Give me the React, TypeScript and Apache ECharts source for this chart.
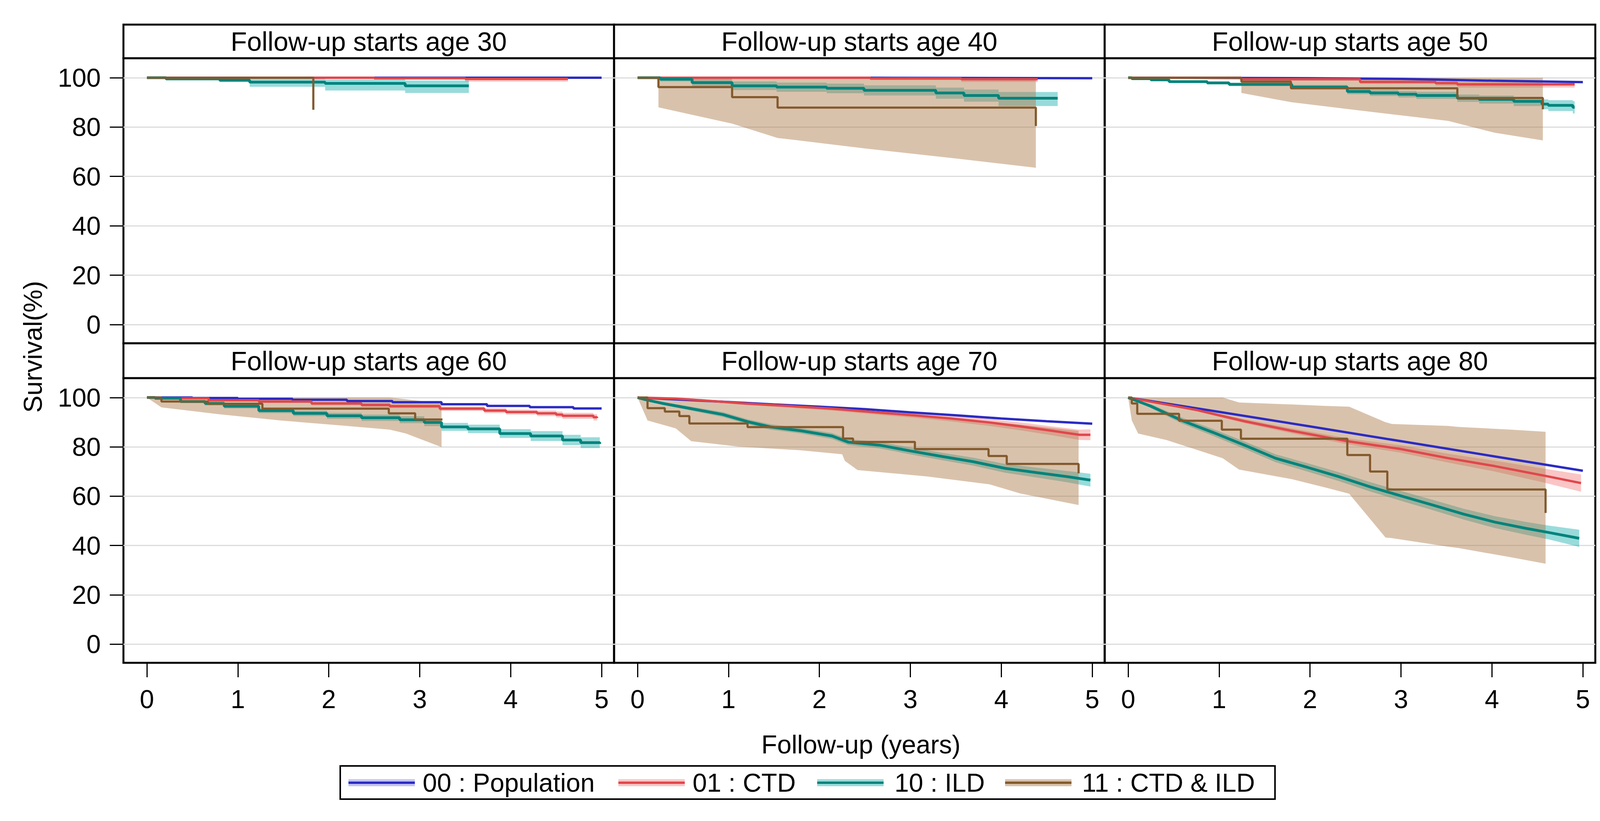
import React, { useEffect, useRef } from "react";
import * as echarts from "echarts";

// ---------- labels ----------
const GROUPS = ["00 : Population", "01 : CTD", "10 : ILD", "11 : CTD & ILD"];
const PANEL_TITLES = [
  "Follow-up starts age 30",
  "Follow-up starts age 40",
  "Follow-up starts age 50",
  "Follow-up starts age 60",
  "Follow-up starts age 70",
  "Follow-up starts age 80",
];
const X_TICKS = [0, 1, 2, 3, 4, 5];
const Y_TICKS = [0, 20, 40, 60, 80, 100];
const X_TITLE = "Follow-up (years)";
const Y_TITLE = "Survival(%)";

// ---------- age 30 ----------
const a30PopT = [0, 5];
const a30PopS = [100, 100];
const a30CtdT = [0, 2.5, 3.5, 4.63];
const a30CtdS = [100, 99.8, 99.5, 99.5];
const a30CtdLo = [100, 99.2, 98.4, 98.3];
const a30CtdHi = [100, 100, 100, 100];
const a30IldT = [0, 0.21, 0.8, 1.13, 1.96, 2.84, 3.54];
const a30IldS = [100, 99.5, 99.0, 98.2, 97.7, 96.7, 96.7];
const a30IldLo = [100, 99.0, 98.2, 96.3, 94.8, 93.8, 93.2];
const a30IldHi = [100, 100, 99.8, 99.6, 99.3, 98.9, 98.7];
const a30BrnT = [0, 1.83];
const a30BrnS = [100, 87.0];

// ---------- age 40 ----------
const a40PopT = [0, 2.5, 3.5, 5];
const a40PopS = [100, 99.9, 99.8, 99.7];
const a40CtdT = [0, 2.56, 3.56, 4.4];
const a40CtdS = [100, 99.7, 99.4, 99.4];
const a40CtdLo = [100, 99.0, 98.3, 98.3];
const a40CtdHi = [100, 100, 100, 100];
const a40IldT = [0, 0.25, 0.6, 1.04, 1.53, 2.08, 2.49, 3.28, 3.59, 3.97, 4.62];
const a40IldS = [100, 99.4, 98.0, 96.7, 96.2, 95.7, 94.9, 93.8, 92.8, 91.7, 91.6];
const a40IldLo = [100, 98.5, 96.5, 95.0, 94.3, 93.7, 92.8, 91.5, 90.3, 88.5, 88.0];
const a40IldHi = [100, 100, 99.5, 98.5, 98.0, 97.6, 96.9, 96.0, 95.2, 94.2, 94.1];
const a40BrnT = [0, 0.23, 1.04, 1.54, 4.38];
const a40BrnS = [100, 96.2, 92.1, 87.9, 80.4];
const a40BrnBandT = [0.23, 1.04, 1.54, 2.49, 3.52, 4.38];
const a40BrnLo = [88.0, 81.4, 75.6, 71.4, 67.2, 63.5];
const a40BrnHi = [100, 100, 100, 100, 100, 100];

// ---------- age 50 ----------
const a50PopT = [0, 1, 2, 3, 4, 5];
const a50PopS = [100, 99.9, 99.8, 99.5, 98.8, 98.2];
const a50CtdT = [0, 1.24, 2.55, 3.38, 3.62, 4.91];
const a50CtdS = [100, 99.4, 98.3, 97.8, 97.3, 97.3];
const a50CtdLo = [100, 98.8, 97.5, 96.8, 96.0, 95.9];
const a50CtdHi = [100, 100, 99.2, 98.8, 98.3, 98.0];
const a50IldT = [0, 0.04, 0.25, 0.45, 0.87, 1.11, 1.8, 2.41, 2.66, 2.97, 3.17, 3.62, 3.86, 4.24, 4.55, 4.62, 4.89, 4.91];
const a50IldS = [100, 99.6, 99.1, 98.4, 97.9, 97.3, 96.2, 94.4, 93.8, 93.3, 92.8, 91.7, 91.2, 90.4, 89.3, 88.8, 88.0, 88.0];
const a50IldLo = [100, 99.3, 98.7, 97.9, 97.3, 96.6, 95.3, 93.3, 92.6, 92.0, 91.4, 90.2, 89.5, 88.5, 87.2, 86.5, 85.5, 85.5];
const a50IldHi = [100, 99.9, 99.5, 98.9, 98.5, 98.0, 97.1, 95.5, 95.0, 94.6, 94.2, 93.2, 92.8, 92.2, 91.2, 90.9, 90.5, 90.5];
const a50BrnT = [0, 1.245, 1.79, 3.62, 4.56];
const a50BrnS = [100, 98.4, 95.7, 91.8, 87.2];
const a50BrnBandT = [1.245, 1.79, 2.48, 3.52, 4.03, 4.56];
const a50BrnLo = [93.8, 90.1, 87.0, 82.5, 77.7, 74.6];
const a50BrnHi = [100, 100, 100, 100, 100, 100];

// ---------- age 60 ----------
const a60PopT = [0, 0.5, 1.0, 1.6, 2.2, 2.7, 3.24, 3.74, 4.21, 4.69, 5.0];
const a60PopS = [100, 99.8, 99.5, 99.1, 98.6, 98.1, 97.3, 96.6, 96.1, 95.6, 95.6];
const a60CtdT = [0, 0.13, 0.68, 1.23, 1.81, 2.36, 2.67, 3.22, 3.71, 3.95, 4.29, 4.5, 4.57, 4.91, 4.95];
const a60CtdS = [100, 99.7, 98.9, 98.4, 97.6, 97.0, 96.5, 95.5, 94.7, 94.1, 93.6, 93.1, 92.6, 92.0, 91.7];
const a60CtdLo = [100, 99.4, 98.4, 97.8, 96.9, 96.2, 95.7, 94.6, 93.7, 93.1, 92.5, 91.9, 91.4, 90.7, 90.4];
const a60CtdHi = [100, 100, 99.4, 99.0, 98.3, 97.8, 97.3, 96.4, 95.7, 95.1, 94.7, 94.3, 93.8, 93.3, 93.0];
const a60IldT = [0, 0.09, 0.37, 0.64, 0.85, 1.23, 1.61, 1.98, 2.36, 2.78, 3.05, 3.24, 3.53, 3.88, 4.22, 4.57, 4.77, 4.98];
const a60IldS = [100, 99.7, 98.4, 97.6, 96.5, 94.7, 93.6, 92.6, 91.8, 91.0, 89.9, 88.1, 87.3, 85.4, 84.4, 82.8, 81.7, 81.2];
const a60IldLo = [100, 99.4, 97.8, 96.8, 95.6, 93.7, 92.5, 91.4, 90.5, 89.6, 88.4, 86.5, 85.6, 83.6, 82.4, 80.7, 79.5, 78.8];
const a60IldHi = [100, 100, 99.0, 98.4, 97.4, 95.7, 94.7, 93.8, 93.1, 92.4, 91.4, 89.7, 89.0, 87.2, 86.4, 84.9, 83.9, 83.6];
const a60BrnT = [0, 0.16, 0.67, 1.27, 2.66, 2.95, 3.25];
const a60BrnS = [100, 98.4, 97.5, 95.5, 93.6, 91.1, 91.1];
const a60BrnBandT = [0, 0.16, 0.78, 1.47, 2.16, 2.67, 2.85, 3.24];
const a60BrnLo = [100, 96.0, 93.3, 90.7, 88.6, 87.0, 85.4, 79.9];
const a60BrnHi = [100, 100, 100, 100, 100, 100, 99.3, 97.6];

// ---------- age 70 ----------
const a70PopT = [0, 0.5, 1, 1.5, 2, 2.5, 3, 3.5, 4, 4.5, 5];
const a70PopS = [100, 99.1, 98.2, 97.2, 96.3, 95.3, 94.0, 92.8, 91.5, 90.4, 89.4];
const a70CtdT = [0, 0.42, 0.7, 1.18, 1.66, 2.14, 2.59, 3.04, 3.45, 3.87, 4.21, 4.56, 4.86, 4.98];
const a70CtdS = [100, 99.6, 98.9, 97.6, 96.6, 95.5, 94.1, 92.8, 91.5, 89.9, 88.3, 86.5, 84.9, 84.9];
const a70CtdLo = [100, 99.3, 98.5, 97.0, 95.9, 94.7, 93.2, 91.8, 90.3, 88.5, 86.7, 84.7, 82.8, 82.7];
const a70CtdHi = [100, 99.9, 99.3, 98.2, 97.3, 96.3, 95.0, 93.8, 92.7, 91.3, 89.9, 88.3, 87.0, 87.1];
const a70IldT = [0, 0.08, 0.28, 0.59, 0.94, 1.21, 1.46, 1.8, 2.14, 2.32, 2.66, 3.01, 3.35, 3.69, 4.04, 4.38, 4.73, 4.98];
const a70IldS = [100, 99.2, 97.6, 95.5, 93.1, 90.2, 88.1, 86.5, 84.4, 81.9, 80.7, 78.3, 76.1, 74.0, 71.3, 69.6, 67.9, 66.5];
const a70IldLo = [100, 98.9, 97.0, 94.7, 92.1, 89.2, 87.0, 85.4, 83.2, 80.7, 79.4, 76.9, 74.6, 72.4, 69.5, 67.6, 65.6, 63.9];
const a70IldHi = [100, 99.5, 98.2, 96.3, 94.1, 91.2, 89.2, 87.6, 85.6, 83.1, 82.0, 79.7, 77.6, 75.6, 73.1, 71.6, 70.2, 69.1];
const a70BrnT = [0, 0.11, 0.3, 0.46, 0.57, 1.21, 2.26, 2.37, 3.05, 3.86, 4.06, 4.85];
const a70BrnS = [100, 95.7, 94.3, 92.5, 89.5, 88.0, 83.4, 82.0, 79.1, 76.3, 73.1, 69.3];
const a70BrnBandT = [0, 0.11, 0.42, 0.59, 1.11, 1.8, 2.25, 2.28, 2.42, 3.18, 3.87, 4.21, 4.85];
const a70BrnLo = [100, 90.7, 87.5, 82.3, 80.1, 78.6, 77.0, 74.3, 70.6, 68.0, 64.8, 61.1, 56.4];
const a70BrnHi = [100, 99.8, 99.3, 98.9, 98.0, 96.6, 95.3, 95.0, 94.5, 92.5, 90.3, 89.0, 86.5];

// ---------- age 80 ----------
const a80PopT = [0, 1, 2, 3, 4, 5];
const a80PopS = [100, 94.2, 88.3, 82.3, 76.3, 70.3];
const a80CtdT = [0, 0.76, 1.28, 1.8, 2.41, 3.0, 3.52, 4.03, 4.55, 4.98];
const a80CtdS = [100, 94.9, 90.4, 86.5, 82.3, 79.1, 75.4, 72.2, 68.5, 65.3];
const a80CtdLo = [100, 94.4, 89.6, 85.5, 81.1, 77.6, 73.6, 70.0, 65.7, 61.8];
const a80CtdHi = [100, 95.4, 91.2, 87.5, 83.5, 80.6, 77.2, 74.4, 71.3, 68.8];
const a80IldT = [0, 0.25, 0.59, 0.93, 1.28, 1.62, 1.97, 2.31, 2.66, 3.0, 3.35, 3.69, 4.03, 4.38, 4.62, 4.96];
const a80IldS = [100, 96.5, 90.7, 85.9, 80.7, 75.4, 71.7, 68.0, 63.8, 60.1, 56.4, 52.7, 49.5, 46.9, 45.3, 42.9];
const a80IldLo = [100, 95.7, 89.5, 84.5, 79.2, 73.8, 70.0, 66.2, 61.9, 58.1, 54.3, 50.5, 47.1, 44.3, 42.5, 39.4];
const a80IldHi = [100, 97.3, 91.9, 87.3, 82.2, 77.0, 73.4, 69.8, 65.7, 62.1, 58.5, 54.9, 51.9, 49.5, 48.1, 46.4];
const a80BrnT = [0, 0.04, 0.1, 0.56, 1.03, 1.24, 2.41, 2.66, 2.85, 4.59];
const a80BrnS = [100, 97.6, 93.4, 90.6, 87.0, 83.3, 76.7, 70.0, 62.7, 53.2];
const a80BrnBandT = [0, 0.04, 0.11, 0.42, 1.04, 1.22, 1.8, 2.17, 2.43, 2.83, 2.9, 3.52, 3.63, 4.21, 4.59];
const a80BrnLo = [100, 90.7, 85.4, 82.8, 75.4, 70.8, 66.9, 63.5, 61.0, 43.2, 43.0, 39.5, 39.0, 35.2, 32.6];
const a80BrnHi = [100, 100, 100, 100, 100, 98.0, 97.2, 96.6, 96.3, 90.0, 89.3, 88.5, 88.1, 87.0, 86.1];

// ---------- styling ----------
const LINE_COLORS = ["#2B2BC4", "#E0474C", "#00837B", "#835A2D"];
const LINE_WIDTHS = [6, 6, 7, 5.5];
const BAND_COLORS = [
  "rgba(80,80,230,0.35)",
  "rgba(240,90,90,0.35)",
  "rgba(0,165,165,0.4)",
  "rgba(170,120,70,0.45)",
];
const FONT = "Liberation Sans, Arial, sans-serif";
const FS = 66;
const FS_HDR = 68;

const COL_LEFT = [316, 1572, 2828];
const COL_W = 1256;
const ROW_TOP = [149, 968];
const ROW_H = [730, 729];
const HDR_TOP = [63, 879];
const X_MIN = -0.258;
const X_MAX = 5.137;
const Y_MIN = -7.6;
const Y_MAX = 107.9;

type Curve = { t: number[]; s: number[]; lo?: number[]; hi?: number[]; step: boolean };
type Band = { t: number[]; lo: number[]; hi: number[] } | null;

const PANELS: { curves: Curve[]; brnBand: Band }[] = [
  {
    curves: [
      { t: a30PopT, s: a30PopS, step: true },
      { t: a30CtdT, s: a30CtdS, lo: a30CtdLo, hi: a30CtdHi, step: true },
      { t: a30IldT, s: a30IldS, lo: a30IldLo, hi: a30IldHi, step: true },
      { t: a30BrnT, s: a30BrnS, step: true },
    ],
    brnBand: null,
  },
  {
    curves: [
      { t: a40PopT, s: a40PopS, step: true },
      { t: a40CtdT, s: a40CtdS, lo: a40CtdLo, hi: a40CtdHi, step: true },
      { t: a40IldT, s: a40IldS, lo: a40IldLo, hi: a40IldHi, step: true },
      { t: a40BrnT, s: a40BrnS, step: true },
    ],
    brnBand: { t: a40BrnBandT, lo: a40BrnLo, hi: a40BrnHi },
  },
  {
    curves: [
      { t: a50PopT, s: a50PopS, step: false },
      { t: a50CtdT, s: a50CtdS, lo: a50CtdLo, hi: a50CtdHi, step: true },
      { t: a50IldT, s: a50IldS, lo: a50IldLo, hi: a50IldHi, step: true },
      { t: a50BrnT, s: a50BrnS, step: true },
    ],
    brnBand: { t: a50BrnBandT, lo: a50BrnLo, hi: a50BrnHi },
  },
  {
    curves: [
      { t: a60PopT, s: a60PopS, step: true },
      { t: a60CtdT, s: a60CtdS, lo: a60CtdLo, hi: a60CtdHi, step: true },
      { t: a60IldT, s: a60IldS, lo: a60IldLo, hi: a60IldHi, step: true },
      { t: a60BrnT, s: a60BrnS, step: true },
    ],
    brnBand: { t: a60BrnBandT, lo: a60BrnLo, hi: a60BrnHi },
  },
  {
    curves: [
      { t: a70PopT, s: a70PopS, step: false },
      { t: a70CtdT, s: a70CtdS, lo: a70CtdLo, hi: a70CtdHi, step: false },
      { t: a70IldT, s: a70IldS, lo: a70IldLo, hi: a70IldHi, step: false },
      { t: a70BrnT, s: a70BrnS, step: true },
    ],
    brnBand: { t: a70BrnBandT, lo: a70BrnLo, hi: a70BrnHi },
  },
  {
    curves: [
      { t: a80PopT, s: a80PopS, step: false },
      { t: a80CtdT, s: a80CtdS, lo: a80CtdLo, hi: a80CtdHi, step: false },
      { t: a80IldT, s: a80IldS, lo: a80IldLo, hi: a80IldHi, step: false },
      { t: a80BrnT, s: a80BrnS, step: true },
    ],
    brnBand: { t: a80BrnBandT, lo: a80BrnLo, hi: a80BrnHi },
  },
];

function bandSeries(idx: number, t: number[], lo: number[], hi: number[], step: boolean, color: string, name: string) {
  const rows = t.map((x, i) => [x, lo[i], hi[i]]);
  return {
    type: "custom",
    name,
    xAxisIndex: idx,
    yAxisIndex: idx,
    silent: true,
    data: rows,
    encode: { x: 0, y: [1, 2] },
    renderItem: (params: any, api: any) => {
      if (params.dataIndex !== 0) return null;
      const upper: number[][] = [];
      const lower: number[][] = [];
      for (let i = 0; i < rows.length; i++) {
        upper.push(api.coord([rows[i][0], rows[i][2]]));
        lower.push(api.coord([rows[i][0], rows[i][1]]));
        if (step && i < rows.length - 1) {
          upper.push(api.coord([rows[i + 1][0], rows[i][2]]));
          lower.push(api.coord([rows[i + 1][0], rows[i][1]]));
        }
      }
      return {
        type: "polygon",
        shape: { points: upper.concat(lower.reverse()) },
        style: { fill: color, stroke: null },
      };
    },
  };
}

function lineSeries(idx: number, c: Curve, color: string, width: number, name: string) {
  return {
    type: "line",
    name,
    xAxisIndex: idx,
    yAxisIndex: idx,
    data: c.t.map((x, i) => [x, c.s[i]]),
    step: c.step ? "end" : false,
    symbol: "none",
    showSymbol: false,
    silent: true,
    lineStyle: { color, width },
    itemStyle: { color },
    emphasis: { disabled: true },
  };
}

function buildOption() {
  const grid: any[] = [];
  const xAxis: any[] = [];
  const yAxis: any[] = [];
  const series: any[] = [];
  const graphic: any[] = [];

  PANELS.forEach((p, i) => {
    const col = i % 3;
    const row = Math.floor(i / 3);
    grid.push({
      left: COL_LEFT[col],
      top: ROW_TOP[row],
      width: COL_W,
      height: ROW_H[row],
      show: true,
      borderColor: "#000",
      borderWidth: 5,
      backgroundColor: "transparent",
      containLabel: false,
      outerBoundsMode: "none",
    });
    const bottom = row === 1;
    const left = col === 0;
    xAxis.push({
      type: "value",
      gridIndex: i,
      position: "bottom",
      min: X_MIN,
      max: X_MAX,
      axisLine: { show: false, onZero: false },
      splitLine: { show: false },
      axisTick: {
        show: bottom,
        customValues: X_TICKS,
        length: 37,
        lineStyle: { color: "#000", width: 3 },
      },
      axisLabel: {
        show: bottom,
        customValues: X_TICKS,
        margin: 60,
        fontSize: FS,
        fontFamily: FONT,
        color: "#000",
      },
    });
    yAxis.push({
      type: "value",
      gridIndex: i,
      position: "left",
      min: Y_MIN,
      max: Y_MAX,
      axisLine: { show: false, onZero: false },
      axisTick: {
        show: left,
        customValues: Y_TICKS,
        length: 35,
        lineStyle: { color: "#000", width: 3 },
      },
      axisLabel: {
        show: left,
        customValues: Y_TICKS,
        margin: 58,
        fontSize: FS,
        fontFamily: FONT,
        color: "#000",
      },
      splitLine: {
        show: true,
        lineStyle: { color: "#DCDCDC", width: 3 },
      },
    });

    p.curves.forEach((c, g) => {
      if (g === 3) {
        if (p.brnBand) {
          series.push(bandSeries(i, p.brnBand.t, p.brnBand.lo, p.brnBand.hi, false, BAND_COLORS[g], GROUPS[g]));
        }
      } else if (c.lo && c.hi) {
        series.push(bandSeries(i, c.t, c.lo, c.hi, c.step, BAND_COLORS[g], GROUPS[g]));
      }
      series.push(lineSeries(i, c, LINE_COLORS[g], LINE_WIDTHS[g], GROUPS[g]));
    });

    // header strip
    const hdrH = ROW_TOP[row] - HDR_TOP[row];
    graphic.push({
      type: "rect",
      shape: { x: COL_LEFT[col], y: HDR_TOP[row], width: COL_W, height: hdrH },
      style: { fill: "#fff", stroke: "#000", lineWidth: 5 },
      silent: true,
    });
    graphic.push({
      type: "text",
      x: COL_LEFT[col] + COL_W / 2,
      y: HDR_TOP[row] + hdrH / 2,
      style: {
        text: PANEL_TITLES[i],
        fontSize: FS_HDR,
        fontFamily: FONT,
        fill: "#000",
        align: "center",
        verticalAlign: "middle",
      },
      silent: true,
    });
  });

  // axis titles
  graphic.push({
    type: "text",
    x: 84,
    y: 888,
    rotation: Math.PI / 2,
    style: {
      text: Y_TITLE,
      fontSize: FS,
      fontFamily: FONT,
      fill: "#000",
      align: "center",
      verticalAlign: "middle",
    },
    silent: true,
  });
  graphic.push({
    type: "text",
    x: 2204,
    y: 1906,
    style: {
      text: X_TITLE,
      fontSize: FS,
      fontFamily: FONT,
      fill: "#000",
      align: "center",
      verticalAlign: "middle",
    },
    silent: true,
  });

  // legend
  graphic.push({
    type: "rect",
    shape: { x: 871, y: 1961, width: 2393, height: 85 },
    style: { fill: "#fff", stroke: "#000", lineWidth: 4 },
    silent: true,
  });
  const LEG_LINE_X = [892, 1583, 2092, 2573];
  const LEG_TEXT_X = [1082, 1773, 2290, 2770];
  const LEG_Y = 2004;
  GROUPS.forEach((name, g) => {
    graphic.push({
      type: "rect",
      shape: { x: LEG_LINE_X[g], y: LEG_Y - 9, width: 170, height: 18 },
      style: { fill: BAND_COLORS[g] },
      silent: true,
    });
    graphic.push({
      type: "line",
      shape: { x1: LEG_LINE_X[g], y1: LEG_Y, x2: LEG_LINE_X[g] + 170, y2: LEG_Y },
      style: { stroke: LINE_COLORS[g], lineWidth: 6 },
      silent: true,
    });
    graphic.push({
      type: "text",
      x: LEG_TEXT_X[g],
      y: LEG_Y,
      style: {
        text: name,
        fontSize: FS,
        fontFamily: FONT,
        fill: "#000",
        align: "left",
        verticalAlign: "middle",
      },
      silent: true,
    });
  });

  return {
    animation: false,
    backgroundColor: "#fff",
    grid,
    xAxis,
    yAxis,
    series,
    graphic,
  };
}

export default function App() {
  const ref = useRef<HTMLDivElement | null>(null);
  useEffect(() => {
    if (!ref.current) return;
    const chart = echarts.init(ref.current, null, { renderer: "svg" });
    chart.setOption(buildOption() as any);
    return () => chart.dispose();
  }, []);
  return (
    <div
      ref={ref}
      style={{ position: "fixed", left: 0, top: 0, width: 4135, height: 2102, background: "#fff" }}
    />
  );
}
